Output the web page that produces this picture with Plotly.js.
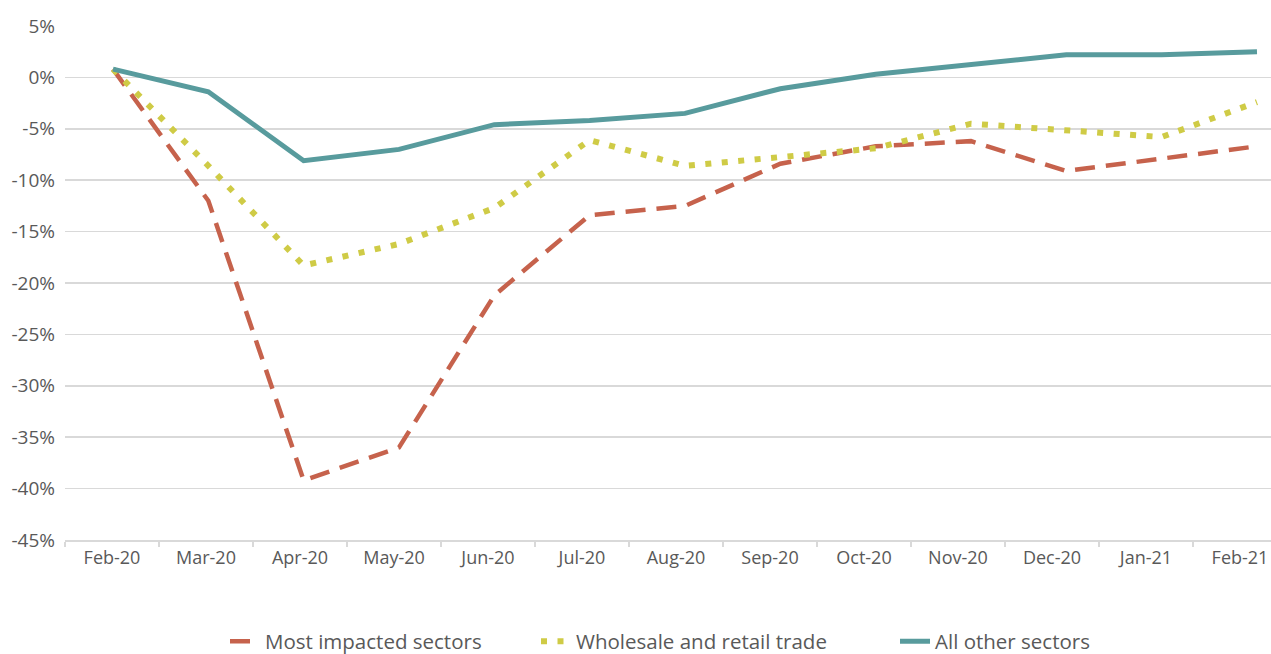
<!DOCTYPE html>
<html>
<head>
<meta charset="utf-8">
<script src="https://cdn.plot.ly/plotly-3.0.1.min.js"></script>
<style>html,body{margin:0;padding:0;background:#fff;}#chart{width:1271px;height:654px;}</style>
</head>
<body>
<div id="chart"></div>
<script>
const months = ["Feb-20","Mar-20","Apr-20","May-20","Jun-20","Jul-20","Aug-20","Sep-20","Oct-20","Nov-20","Dec-20","Jan-21","Feb-21"];
const mostImpacted = [0.8, -12.0, -39.2, -36.0, -21.2, -13.4, -12.5, -8.4, -6.7, -6.2, -9.1, -7.9, -6.7];
const wholesaleRetail = [0.8, -8.6, -18.3, -16.2, -12.7, -6.1, -8.6, -7.8, -6.9, -4.5, -5.2, -5.8, -2.4];
const allOther = [0.8, -1.4, -8.1, -7.0, -4.6, -4.2, -3.5, -1.1, 0.3, 1.2, 2.2, 2.2, 2.5];
const yTicks = [5, 0, -5, -10, -15, -20, -25, -30, -35, -40, -45];
const yTickText = yTicks.map(v => v + "%");

const fontFam = "'Open Sans', 'Liberation Sans', sans-serif";
const gray = "#595959";
const legendFont = {size: 20.5, color: gray, family: fontFam};

const traces = [
  // category axis carrier (no visible marks) so the labelled x axis is drawn
  {x: months, y: months.map(() => null), type: "scatter", mode: "lines", xaxis: "x", yaxis: "y",
   showlegend: false, hoverinfo: "skip", line: {width: 0}},
  {x: months, y: mostImpacted, name: "Most impacted sectors", type: "scatter", mode: "lines",
   xaxis: "x2", yaxis: "y", legend: "legend",
   line: {color: "#C6624C", width: 4.5, dash: "20px,11px"}},
  {x: months, y: wholesaleRetail, name: "Wholesale and retail trade", type: "scatter", mode: "lines",
   xaxis: "x2", yaxis: "y", legend: "legend2",
   line: {color: "#CFCB46", width: 6, dash: "6px,10.5px"}},
  {x: months, y: allOther, name: "All other sectors", type: "scatter", mode: "lines",
   xaxis: "x2", yaxis: "y", legend: "legend3",
   line: {color: "#589B9D", width: 5}}
];

function legendAt(px) {
  return {orientation: "h", x: (px - 65) / 1206, xanchor: "left", y: (540 - 641.5) / 514.5, yanchor: "middle",
          font: legendFont, bgcolor: "rgba(0,0,0,0)"};
}

const layout = {
  width: 1271, height: 654,
  margin: {l: 65, r: 0, t: 25.5, b: 114, autoexpand: false},
  paper_bgcolor: "#fff", plot_bgcolor: "#fff",
  font: {family: fontFam, color: gray, size: 16},
  showlegend: true,
  legend: legendAt(225),
  legend2: legendAt(536),
  legend3: legendAt(895),
  xaxis: {type: "category", categoryarray: months, categoryorder: "array",
          range: [-0.5, 12.33], tickson: "boundaries", ticks: "outside", ticklen: 5,
          tickcolor: "#d9d9d9", tickwidth: 1.5, showline: true, linecolor: "#d9d9d9", linewidth: 1.5,
          showgrid: false, zeroline: false, fixedrange: true, ticklabelstandoff: 1, automargin: false,
          tickfont: {size: 18, color: gray}},
  xaxis2: {type: "category", categoryarray: months, categoryorder: "array", overlaying: "x",
           range: [-0.5035, 12.147], visible: false, fixedrange: true},
  yaxis: {range: [-45, 5], tickvals: yTicks, ticktext: yTickText, showgrid: true, automargin: false,
          gridcolor: "#d9d9d9", gridwidth: 1.5, zeroline: false, showline: false, ticks: "",
          ticklabelstandoff: 9, tickfont: {size: 19, color: gray}, fixedrange: true}
};

Plotly.newPlot("chart", traces, layout, {displayModeBar: false, staticPlot: true});
</script>
</body>
</html>
